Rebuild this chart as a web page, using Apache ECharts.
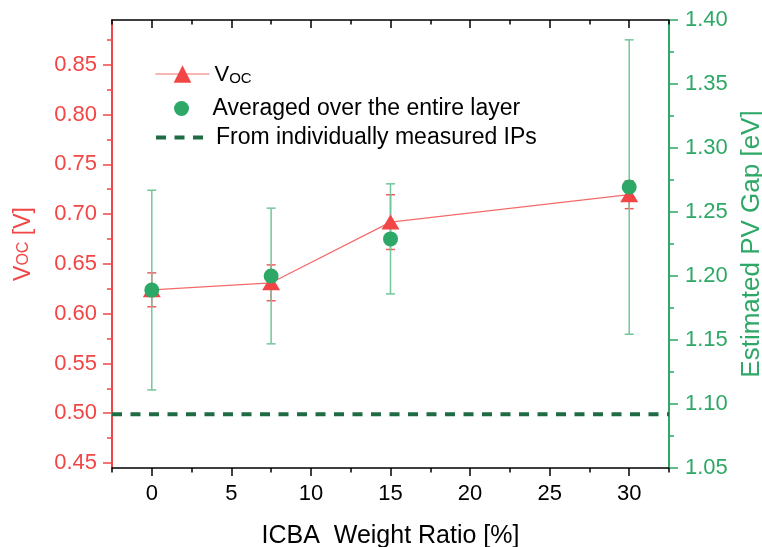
<!DOCTYPE html>
<html>
<head>
<meta charset="utf-8">
<script src="https://cdn.jsdelivr.net/npm/echarts@6/dist/echarts.min.js"></script>
<style>
  html, body { margin: 0; padding: 0; background: #ffffff; }
  #chart { width: 762px; height: 547px; }
</style>
</head>
<body>
<div id="chart"></div>
<script>
// ICBA weight ratio (%) of each sample
const ratios = [0, 7.5, 15, 30];
// Open-circuit voltage, mean and half-width of its error bar (V)
const vocMean = [0.624, 0.631, 0.692, 0.7195];
const vocErr = [0.017, 0.018, 0.0275, 0.014];
// PV gap averaged over the entire layer, mean and half-width (eV)
const gapMean = [1.189, 1.200, 1.229, 1.2695];
const gapErr = [0.078, 0.053, 0.043, 0.115];
// PV gap from individually measured IPs (eV)
const ipGap = 1.092;

// Axis ticks
const xMajor = [0, 5, 10, 15, 20, 25, 30];
const xMinor = [-2.5, 2.5, 7.5, 12.5, 17.5, 22.5, 27.5, 32.5];
const vocMajor = [0.45, 0.50, 0.55, 0.60, 0.65, 0.70, 0.75, 0.80, 0.85];
const vocMinor = [0.475, 0.525, 0.575, 0.625, 0.675, 0.725, 0.775, 0.825, 0.875];
const gapMajor = [1.05, 1.10, 1.15, 1.20, 1.25, 1.30, 1.35, 1.40];
const gapMinor = [1.075, 1.125, 1.175, 1.225, 1.275, 1.325, 1.375];

const RED = '#f24545';
const RED_LINE = '#f46a6a';
const RED_ERR = '#f25a5a';
const GREEN = '#2ea866';
const GREEN_ERR = '#72c69a';
const DARK_GREEN = '#1f6b44';
const FONT = "'Liberation Sans', Arial, sans-serif";

const chart = echarts.init(document.getElementById('chart'), null, { renderer: 'canvas' });

function errorBars(name, yAxisIndex, xs, means, errs, color, z) {
  return {
    type: 'custom',
    name: name,
    xAxisIndex: 0,
    yAxisIndex: yAxisIndex,
    z: z,
    silent: true,
    data: xs.map((x, i) => [x, means[i] - errs[i], means[i] + errs[i]]),
    encode: { x: 0, y: [1, 2] },
    renderItem: function (params, api) {
      const x = api.value(0);
      const lo = api.coord([x, api.value(1)]);
      const hi = api.coord([x, api.value(2)]);
      const cap = 4.5;
      const style = { stroke: color, lineWidth: 1.5, fill: null };
      return {
        type: 'group',
        children: [
          { type: 'line', shape: { x1: lo[0], y1: lo[1], x2: hi[0], y2: hi[1] }, style: style },
          { type: 'line', shape: { x1: lo[0] - cap, y1: lo[1], x2: lo[0] + cap, y2: lo[1] }, style: style },
          { type: 'line', shape: { x1: hi[0] - cap, y1: hi[1], x2: hi[0] + cap, y2: hi[1] }, style: style }
        ]
      };
    }
  };
}

const legendText = { fontFamily: FONT, fontSize: 23, color: '#000' };

const option = {
  animation: false,
  backgroundColor: '#ffffff',
  textStyle: { fontFamily: FONT },
  grid: { left: 112, right: 93, top: 20, bottom: 79, containLabel: false, outerBoundsMode: 'none' },
  legend: [
    {
      data: ['VOC'], left: 155, top: 53, padding: 0,
      itemWidth: 54, itemHeight: 22, itemGap: 0,
      formatter: () => '{a|V}{b|OC}',
      textStyle: Object.assign({}, legendText, {
        rich: {
          a: { fontFamily: FONT, fontSize: 22, color: '#000', verticalAlign: 'bottom', lineHeight: 24 },
          b: { fontFamily: FONT, fontSize: 15, color: '#000', verticalAlign: 'bottom', lineHeight: 10, padding: [18, 0, 0, 0] }
        }
      }),
      lineStyle: { width: 1 }
    },
    {
      data: ['Averaged over the entire layer'], left: 174, top: 97, padding: 0,
      itemWidth: 52, itemHeight: 15, itemGap: 0,
      textStyle: legendText
    },
    {
      data: ['From individually measured IPs'], left: 154, top: 126, padding: 0,
      itemWidth: 55, itemHeight: 14, itemGap: 0,
      textStyle: legendText,
      itemStyle: { opacity: 0 },
      lineStyle: { width: 4 }
    }
  ],
  xAxis: [
    {
      type: 'value', position: 'bottom', min: -2.5, max: 32.5,
      name: 'ICBA  Weight Ratio [%]', nameLocation: 'middle', nameGap: 56,
      nameTextStyle: { fontFamily: FONT, fontSize: 25, color: '#000' },
      axisLine: { show: true, onZero: false, lineStyle: { color: '#000', width: 1.5 } },
      axisTick: { show: true, customValues: xMajor, length: 8, lineStyle: { color: '#000', width: 1.5 } },
      axisLabel: { show: true, customValues: xMajor, margin: 15, fontFamily: FONT, fontSize: 22, color: '#000' },
      splitLine: { show: false }
    },
    {
      type: 'value', position: 'bottom', min: -2.5, max: 32.5,
      axisLine: { show: false, onZero: false },
      axisTick: { show: true, customValues: xMinor, length: 4.5, lineStyle: { color: '#000', width: 1.5 } },
      axisLabel: { show: false },
      splitLine: { show: false }
    },
    {
      type: 'value', position: 'top', min: -2.5, max: 32.5,
      axisLine: { show: true, onZero: false, lineStyle: { color: '#000', width: 1.5 } },
      axisTick: { show: true, inside: true, customValues: xMajor, length: 8, lineStyle: { color: '#000', width: 1.5 } },
      axisLabel: { show: false },
      splitLine: { show: false }
    },
    {
      type: 'value', position: 'top', min: -2.5, max: 32.5,
      axisLine: { show: false, onZero: false },
      axisTick: { show: true, inside: true, customValues: xMinor, length: 4.5, lineStyle: { color: '#000', width: 1.5 } },
      axisLabel: { show: false },
      splitLine: { show: false }
    }
  ],
  yAxis: [
    {
      type: 'value', position: 'left', min: 0.445, max: 0.895,
      name: '{a|V}{b|OC}{a| [V]}', nameLocation: 'middle', nameGap: 77, nameRotate: 90,
      nameTextStyle: {
        color: RED,
        rich: {
          a: { fontFamily: FONT, fontSize: 23, color: RED },
          b: { fontFamily: FONT, fontSize: 16, color: RED }
        }
      },
      axisLine: { show: true, onZero: false, lineStyle: { color: RED, width: 2 } },
      axisTick: { show: true, customValues: vocMajor, length: 9, lineStyle: { color: RED, width: 1.5 } },
      axisLabel: {
        show: true, customValues: vocMajor, margin: 15, fontFamily: FONT, fontSize: 22, color: RED,
        formatter: v => v.toFixed(2)
      },
      splitLine: { show: false }
    },
    {
      type: 'value', position: 'right', min: 1.05, max: 1.40,
      name: 'Estimated PV Gap [eV]', nameLocation: 'middle', nameGap: 67, nameRotate: 90,
      nameTextStyle: { fontFamily: FONT, fontSize: 26, color: GREEN },
      axisLine: { show: true, onZero: false, lineStyle: { color: GREEN, width: 2 } },
      axisTick: { show: true, customValues: gapMajor, length: 9, lineStyle: { color: GREEN, width: 1.5 } },
      axisLabel: {
        show: true, customValues: gapMajor, margin: 16, fontFamily: FONT, fontSize: 22, color: GREEN,
        formatter: v => v.toFixed(2)
      },
      splitLine: { show: false }
    },
    {
      type: 'value', position: 'left', min: 0.445, max: 0.895,
      axisLine: { show: false, onZero: false },
      axisTick: { show: true, customValues: vocMinor, length: 5, lineStyle: { color: RED, width: 1.5 } },
      axisLabel: { show: false },
      splitLine: { show: false }
    },
    {
      type: 'value', position: 'right', min: 1.05, max: 1.40,
      axisLine: { show: false, onZero: false },
      axisTick: { show: true, customValues: gapMinor, length: 5, lineStyle: { color: GREEN, width: 1.5 } },
      axisLabel: { show: false },
      splitLine: { show: false }
    }
  ],
  series: [
    {
      type: 'line', name: 'From individually measured IPs',
      xAxisIndex: 0, yAxisIndex: 1, z: 1,
      data: [[-2.5, ipGap], [32.5, ipGap]],
      symbol: 'none', silent: true,
      itemStyle: { color: DARK_GREEN },
      lineStyle: { color: DARK_GREEN, width: 4, type: [10, 8.5] }
    },
    errorBars('VOC error', 0, ratios, vocMean, vocErr, RED_ERR, 2),
    errorBars('Gap error', 1, ratios, gapMean, gapErr, GREEN_ERR, 3),
    {
      type: 'line', name: 'VOC',
      xAxisIndex: 0, yAxisIndex: 0, z: 4,
      data: ratios.map((x, i) => [x, vocMean[i]]),
      symbol: 'triangle', symbolSize: [18, 15],
      itemStyle: { color: RED },
      lineStyle: { color: RED_LINE, width: 1.2 }
    },
    {
      type: 'scatter', name: 'Averaged over the entire layer',
      xAxisIndex: 0, yAxisIndex: 1, z: 5,
      data: ratios.map((x, i) => [x, gapMean[i]]),
      symbol: 'circle', symbolSize: 15,
      itemStyle: { color: GREEN, opacity: 1 }
    }
  ]
};

chart.setOption(option);
</script>
</body>
</html>
